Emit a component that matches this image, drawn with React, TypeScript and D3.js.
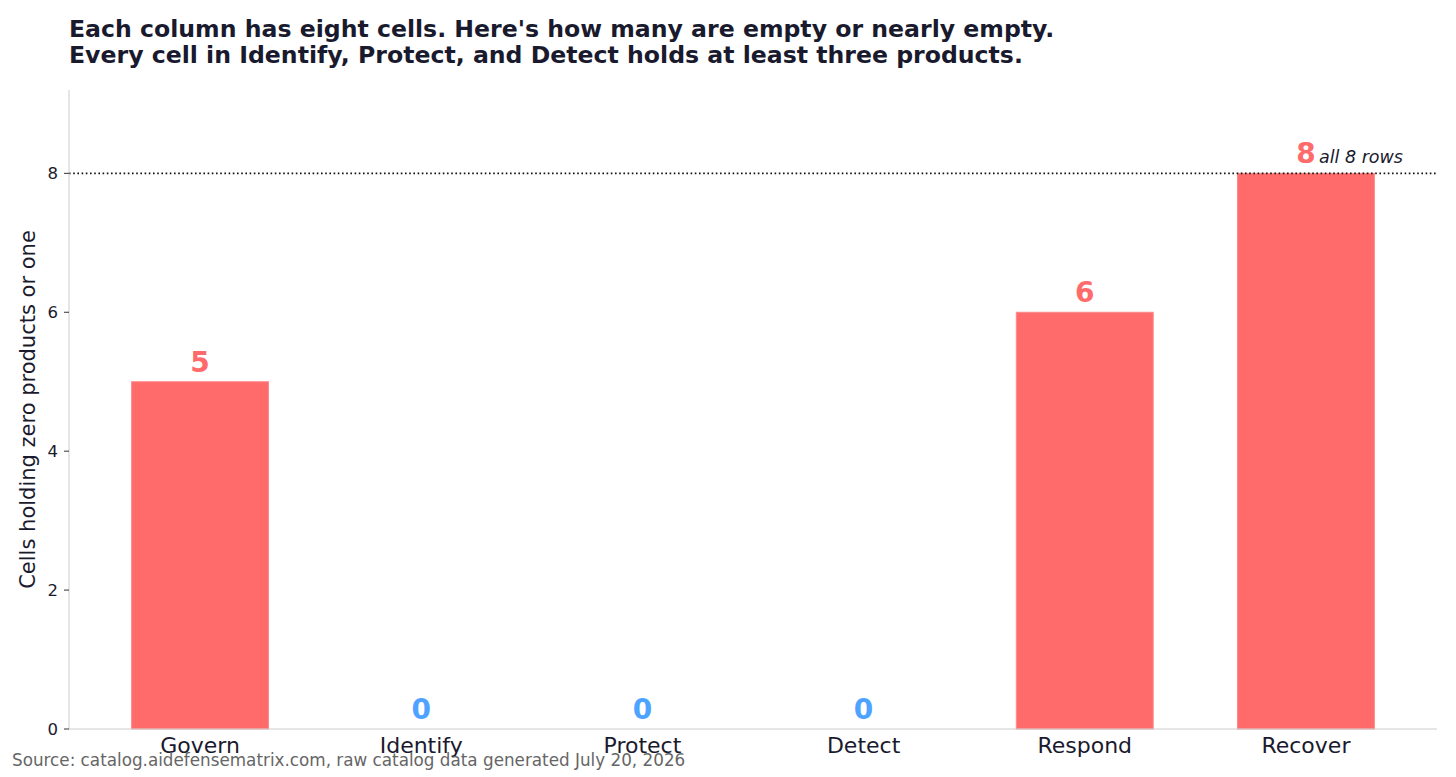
import * as d3 from 'd3'

const categories = ['Govern', 'Identify', 'Protect', 'Detect', 'Respond', 'Recover']
const sparseCells = [5, 0, 0, 0, 6, 8]
const yTicks = [0, 2, 4, 6, 8]
const rowsPerColumn = 8

const W = 1456
const H = 777
const margin = { left: 69, right: 19, top: 90, bottom: 48 }
const FONT = '"DejaVu Sans", sans-serif'
const INK = '#1a1a2e'
const RED = '#ff6b6b'
const BLUE = '#4da3ff'

export default function App() {
  const x = d3
    .scaleBand<string>()
    .domain(categories)
    .range([margin.left, W - margin.right])
    .paddingInner(0.381)
    .paddingOuter(0.283)
  const y = d3
    .scaleLinear()
    .domain([0, 9.2])
    .range([H - margin.bottom, margin.top])

  const y0 = y(0)
  const bw = x.bandwidth()

  return (
    <svg
      width={W}
      height={H}
      style={{ position: 'absolute', left: 0, top: 0, fontFamily: FONT }}
    >
      <rect width={W} height={H} fill="#fff" />

      <text x={69} y={37} fontSize={23.6} fontWeight="bold" fill={INK}>
        Each column has eight cells. Here's how many are empty or nearly empty.
      </text>
      <text x={69} y={63} fontSize={23.6} fontWeight="bold" fill={INK}>
        Every cell in Identify, Protect, and Detect holds at least three products.
      </text>

      {/* bars */}
      {categories.map((c, i) => {
        const v = sparseCells[i]
        if (v === 0) return null
        return (
          <rect
            key={c}
            x={x(c)}
            y={y(v)}
            width={bw}
            height={y0 - y(v)}
            fill={RED}
            stroke="#ff8a8a"
            strokeWidth={1}
          />
        )
      })}

      {/* reference line for a full column */}
      <line
        x1={margin.left}
        x2={W - margin.right}
        y1={y(rowsPerColumn)}
        y2={y(rowsPerColumn)}
        stroke="#111"
        strokeWidth={1.6}
        strokeDasharray="1.6 2.6"
      />

      {/* spines */}
      <line x1={margin.left} x2={margin.left} y1={margin.top} y2={y0} stroke="#cccccc" />
      <line x1={margin.left} x2={W - margin.right} y1={y0} y2={y0} stroke="#cccccc" />

      {/* y ticks */}
      {yTicks.map((t) => (
        <g key={t}>
          <line x1={margin.left - 5} x2={margin.left} y1={y(t)} y2={y(t)} stroke="#333" />
          <text
            x={margin.left - 11}
            y={y(t)}
            textAnchor="end"
            dominantBaseline="central"
            fontSize={16.5}
            fill={INK}
          >
            {t}
          </text>
        </g>
      ))}
      <text
        transform={`translate(35,${(margin.top + y0) / 2}) rotate(-90)`}
        textAnchor="middle"
        fontSize={21}
        fill={INK}
      >
        Cells holding zero products or one
      </text>

      {/* x labels */}
      {categories.map((c) => (
        <text
          key={c}
          x={x(c)! + bw / 2}
          y={y0 + 24}
          textAnchor="middle"
          fontSize={22}
          fill={INK}
        >
          {c}
        </text>
      ))}

      {/* value labels */}
      {categories.map((c, i) => {
        const v = sparseCells[i]
        return (
          <text
            key={c}
            x={x(c)! + bw / 2}
            y={y(v) - 10}
            textAnchor="middle"
            fontSize={28}
            fontWeight="bold"
            fill={v === 0 ? BLUE : RED}
          >
            {v}
          </text>
        )
      })}
      <text
        x={x('Recover')! + bw / 2 + 13}
        y={y(rowsPerColumn) - 10}
        fontSize={17.5}
        fontStyle="italic"
        fill={INK}
      >
        all 8 rows
      </text>

      <text x={12} y={766} fontSize={16.8} fill="#666">
        Source: catalog.aidefensematrix.com, raw catalog data generated July 20, 2026
      </text>
    </svg>
  )
}
